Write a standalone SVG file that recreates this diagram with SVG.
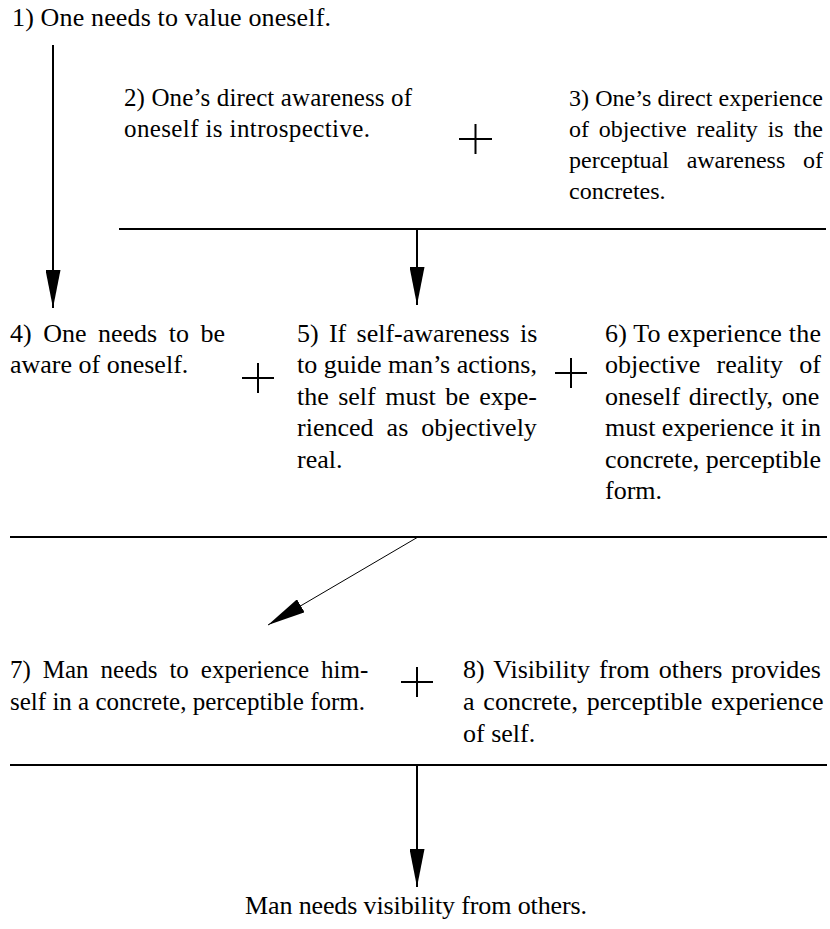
<svg xmlns="http://www.w3.org/2000/svg" width="830" height="929" viewBox="0 0 830 929">
  <defs>
    <marker id="head" viewBox="0 0 38 15" markerWidth="38" markerHeight="15" refX="38" refY="7.5" markerUnits="userSpaceOnUse" orient="auto">
      <path d="M0,0 L38,7.5 L0,15 Z" fill="#000"/>
    </marker>
  </defs>
  <rect width="830" height="929" fill="#fff"/>

  <!-- premise nodes -->
  <g id="n1">
    <text x="12" y="26" font-family="Liberation Serif" font-size="26" textLength="319">1) One needs to value oneself.</text>
  </g>
  <g id="n2">
    <text x="124" y="106" font-family="Liberation Serif" font-size="25" textLength="288">2) One’s direct awareness of</text>
    <text x="124" y="137" font-family="Liberation Serif" font-size="25" textLength="246">oneself is introspective.</text>
  </g>
  <g id="n3">
    <text x="569" y="106" font-family="Liberation Serif" font-size="24" textLength="254">3) One’s direct experience</text>
    <text x="569" y="137" font-family="Liberation Serif" font-size="24" word-spacing="3.8">of objective reality is the</text>
    <text x="569" y="168" font-family="Liberation Serif" font-size="24" word-spacing="11.7">perceptual awareness of</text>
    <text x="569" y="199" font-family="Liberation Serif" font-size="24">concretes.</text>
  </g>
  <g id="n4">
    <text x="10" y="342" font-family="Liberation Serif" font-size="26" word-spacing="5">4) One needs to be</text>
    <text x="10" y="373" font-family="Liberation Serif" font-size="26">aware of oneself.</text>
  </g>
  <g id="n5">
    <text x="297" y="342" font-family="Liberation Serif" font-size="26" word-spacing="3.8">5) If self-awareness is</text>
    <text x="297" y="373.4" font-family="Liberation Serif" font-size="26" textLength="240">to guide man’s actions,</text>
    <text x="297" y="404.8" font-family="Liberation Serif" font-size="26" word-spacing="2.95">the self must be expe-</text>
    <text x="297" y="436.2" font-family="Liberation Serif" font-size="26" word-spacing="6.6">rienced as objectively</text>
    <text x="297" y="467.6" font-family="Liberation Serif" font-size="26">real.</text>
  </g>
  <g id="n6">
    <text x="605" y="342" font-family="Liberation Serif" font-size="26" textLength="216">6) To experience the</text>
    <text x="605" y="373.4" font-family="Liberation Serif" font-size="26" word-spacing="9.8">objective reality of</text>
    <text x="605" y="404.8" font-family="Liberation Serif" font-size="26" word-spacing="2.2">oneself directly, one</text>
    <text x="605" y="436.2" font-family="Liberation Serif" font-size="26" textLength="216">must experience it in</text>
    <text x="605" y="467.6" font-family="Liberation Serif" font-size="26" textLength="216">concrete, perceptible</text>
    <text x="605" y="499" font-family="Liberation Serif" font-size="26">form.</text>
  </g>
  <g id="n7">
    <text x="10" y="678" font-family="Liberation Serif" font-size="25" word-spacing="5.7">7) Man needs to experience him-</text>
    <text x="10" y="710" font-family="Liberation Serif" font-size="25" textLength="355">self in a concrete, perceptible form.</text>
  </g>
  <g id="n8">
    <text x="463" y="678" font-family="Liberation Serif" font-size="26" word-spacing="2.6">8) Visibility from others provides</text>
    <text x="463" y="710" font-family="Liberation Serif" font-size="26" word-spacing="2.3">a concrete, perceptible experience</text>
    <text x="463" y="742" font-family="Liberation Serif" font-size="26">of self.</text>
  </g>
  <g id="conclusion">
    <text x="245" y="914" font-family="Liberation Serif" font-size="26" textLength="342">Man needs visibility from others.</text>
  </g>

  <!-- conjunction signs -->
  <g id="plus-signs" stroke="#000" stroke-width="2" fill="none">
    <path id="plus-2-3" d="M459,139 H492 M475.5,124 V154"/>
    <path id="plus-4-5" d="M242,378 H274 M258,363 V393"/>
    <path id="plus-5-6" d="M555,373 H587 M571,358 V388"/>
    <path id="plus-7-8" d="M401,682 H433 M417,667 V697"/>
  </g>

  <!-- connectors -->
  <g id="connectors" stroke="#000" fill="none">
    <line stroke-width="2.2" x1="119" y1="229" x2="826" y2="229"/>
    <line stroke-width="2.2" x1="10" y1="537" x2="827" y2="537"/>
    <line stroke-width="2.2" x1="10" y1="765" x2="827" y2="765"/>
    <line stroke-width="2" x1="53" y1="45" x2="53" y2="308" marker-end="url(#head)"/>
    <line stroke-width="2" x1="417" y1="230" x2="417" y2="305" marker-end="url(#head)"/>
    <line stroke-width="1" x1="418" y1="537" x2="268" y2="625" marker-end="url(#head)"/>
    <line stroke-width="2" x1="417" y1="766" x2="417" y2="887" marker-end="url(#head)"/>
  </g>
</svg>
